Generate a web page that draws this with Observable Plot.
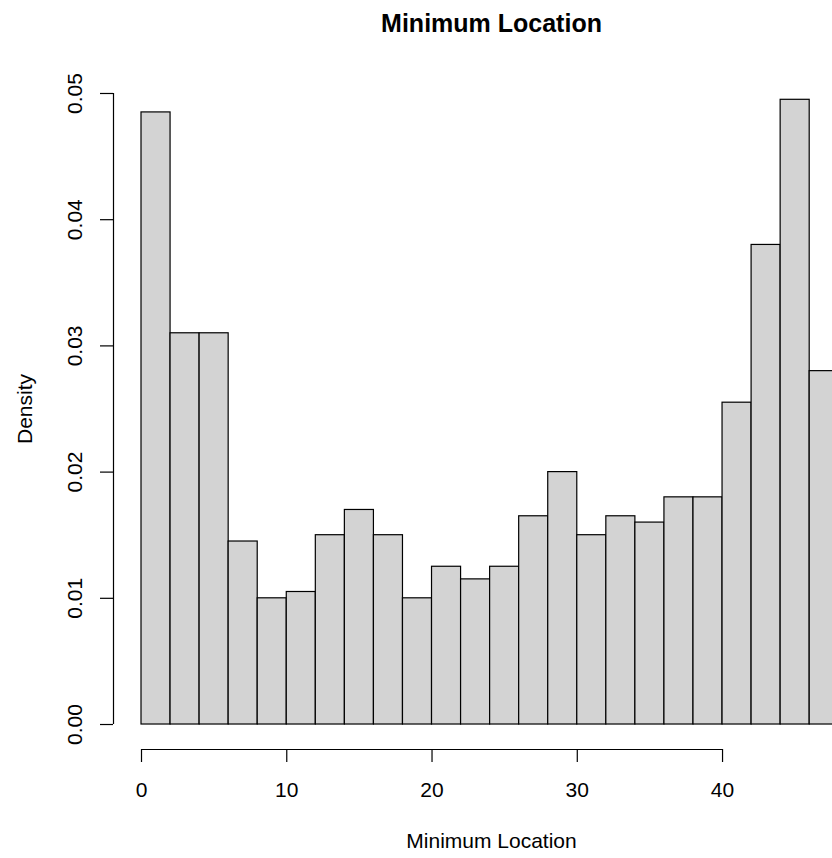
<!DOCTYPE html>
<html>
<head>
<meta charset="utf-8">
<script src="https://cdn.jsdelivr.net/npm/d3@7"></script>
<script src="https://cdn.jsdelivr.net/npm/@observablehq/plot@0.6"></script>
<style>
  html, body { margin: 0; padding: 0; background: #fff; }
  #chart svg { display: block; font-family: "Liberation Sans", Arial, Helvetica, sans-serif; }
</style>
</head>
<body>
<div id="chart"></div>
<script>
// ---- data ----
const binStart = [0, 2, 4, 6, 8, 10, 12, 14, 16, 18, 20, 22, 24, 26, 28, 30, 32, 34, 36, 38, 40, 42, 44, 46];
const binEnd   = [2, 4, 6, 8, 10, 12, 14, 16, 18, 20, 22, 24, 26, 28, 30, 32, 34, 36, 38, 40, 42, 44, 46, 48];
const density  = [0.0485, 0.031, 0.031, 0.0145, 0.010, 0.0105, 0.015, 0.017, 0.015, 0.010, 0.0125, 0.0115,
                  0.0125, 0.0165, 0.020, 0.015, 0.0165, 0.016, 0.018, 0.018, 0.0255, 0.038, 0.0495, 0.028];
const xTicks = [0, 10, 20, 30, 40];
const xTickLabels = ["0", "10", "20", "30", "40"];
const yTicks = [0, 0.01, 0.02, 0.03, 0.04, 0.05];
const yTickLabels = ["0.00", "0.01", "0.02", "0.03", "0.04", "0.05"];
const title = "Minimum Location";
const xLabel = "Minimum Location";
const yLabel = "Density";

const bins = binStart.map((s, i) => ({x1: s, x2: binEnd[i], y: density[i]}));

const xDomain = [-1.928, 47.57];
const yDomain = [-0.00198, 0.05198];
const fs = 21;

const chart = Plot.plot({
  width: 832,
  height: 858,
  marginLeft: 113,
  marginRight: 0,
  marginTop: 68,
  marginBottom: 109,
  x: {domain: xDomain},
  y: {domain: yDomain},
  style: {background: "#fff", color: "#000", fontFamily: "'Liberation Sans', Arial, Helvetica, sans-serif"},
  marks: [
    Plot.rectY(bins, {x1: "x1", x2: "x2", y1: 0, y2: "y", fill: "#d3d3d3", stroke: "#000", strokeWidth: 1.2, clip: true}),
    // y axis
    Plot.ruleX([xDomain[0]], {y1: yTicks[0], y2: yTicks[yTicks.length - 1], stroke: "#000", strokeWidth: 1.2}),
    Plot.axisY({ticks: yTicks, tickSize: 13, tickFormat: () => "", label: null, strokeWidth: 1.2}),
    Plot.text(yTicks, {y: d => d, text: (d, i) => yTickLabels[i], frameAnchor: "left", dx: -38, rotate: -90,
      fontSize: fs, textAnchor: "middle", lineAnchor: "middle", fill: "#000"}),
    // x axis
    Plot.ruleY([yDomain[0]], {x1: xTicks[0], x2: xTicks[xTicks.length - 1], stroke: "#000", strokeWidth: 1.2}),
    Plot.axisX({ticks: xTicks, tickSize: 13, tickFormat: () => "", label: null, strokeWidth: 1.2}),
    Plot.text(xTicks, {x: d => d, text: (d, i) => xTickLabels[i], frameAnchor: "bottom", dy: 41,
      fontSize: fs, textAnchor: "middle", lineAnchor: "middle", fill: "#000"}),
    // labels
    Plot.text([xLabel], {text: d => d, frameAnchor: "bottom", dy: 92, dx: 18.5, fontSize: fs, textAnchor: "middle", lineAnchor: "middle", fill: "#000"}),
    Plot.text([yLabel], {text: d => d, frameAnchor: "left", dx: -88, rotate: -90, fontSize: fs, textAnchor: "middle", lineAnchor: "middle", fill: "#000"}),
    Plot.text([title], {text: d => d, frameAnchor: "top", dy: -45, dx: 18.5, fontSize: 25, fontWeight: "bold", textAnchor: "middle", lineAnchor: "middle", fill: "#000"})
  ]
});
document.getElementById("chart").appendChild(chart);
</script>
</body>
</html>
